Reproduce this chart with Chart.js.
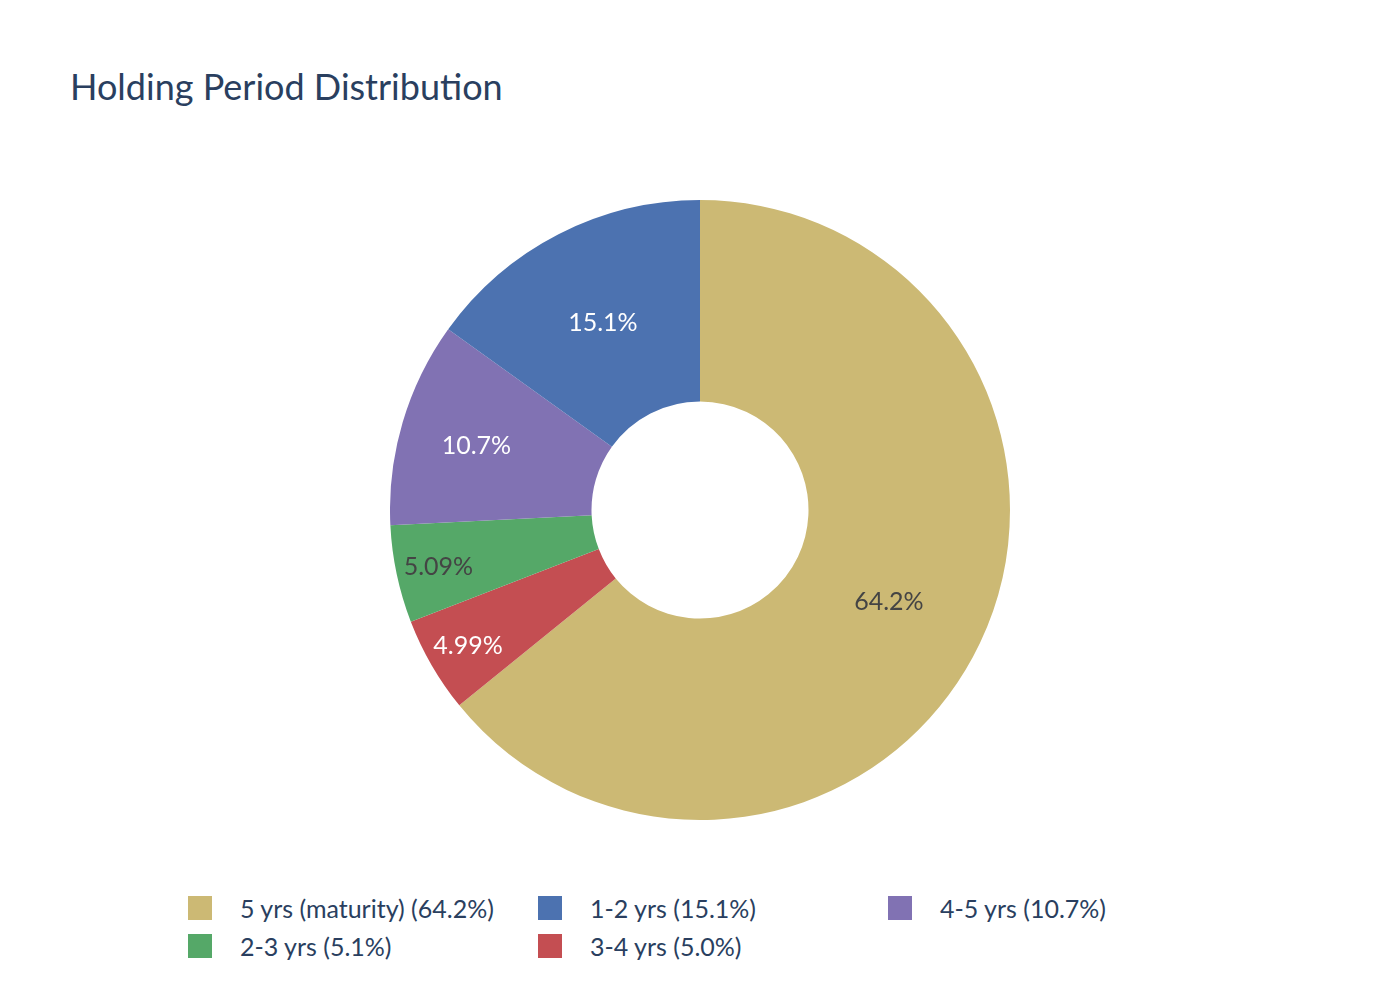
<!DOCTYPE html>
<html>
<head>
<meta charset="utf-8">
<script src="https://cdn.jsdelivr.net/npm/chart.js@4"></script>
<style>
  body { margin: 0; background: #fff; font-family: Lato, sans-serif; }
  #page { position: relative; width: 1400px; height: 1000px; }
  #title { position: absolute; left: 70px; top: 64px; font-size: 36px; color: #2a3f5f; white-space: nowrap; }
  #pie { position: absolute; left: 390px; top: 200px; width: 620px; height: 620px; }
  #legend { position: absolute; left: 188px; top: 894px; width: 1100px; }
  .item { position: absolute; display: flex; align-items: center; height: 28px; font-size: 25px; color: #2a3f5f; white-space: nowrap; }
  .swatch { width: 24px; height: 24px; margin-right: 28px; }
</style>
</head>
<body>
<div id="page">
  <div id="title">Holding Period Distribution</div>
  <div id="pie"><canvas id="myChart"></canvas></div>
  <div id="legend"></div>
</div>
<script>
// slices, clockwise from 12 o'clock
const categories = ["5 yrs (maturity)", "3-4 yrs", "2-3 yrs", "4-5 yrs", "1-2 yrs"];
const shares = [64.2, 4.99, 5.09, 10.7, 15.1];
const colors = ["rgb(204,185,116)", "rgb(196,78,82)", "rgb(85,168,104)", "rgb(129,114,179)", "rgb(76,114,176)"];

function textColorFor(c) {
    const [r, g, b] = c.match(/\d+/g).map(Number);
    return (r * 299 + g * 587 + b * 114) / 1000 >= 128 ? "#444" : "#fff";
}

// plotly-like inside labels
const sliceLabels = {
    id: "sliceLabels",
    afterDatasetsDraw(chart) {
        const ctx = chart.ctx;
        const meta = chart.getDatasetMeta(0);
        const total = shares.reduce((a, b) => a + b, 0);
        ctx.save();
        ctx.font = "25px Lato";
        ctx.textAlign = "center";
        ctx.textBaseline = "alphabetic";
        meta.data.forEach((arc, i) => {
            const p = arc.getProps(["x", "y", "startAngle", "endAngle", "outerRadius", "innerRadius"], true);
            const mid = (p.startAngle + p.endAngle) / 2;
            const frac = shares[i] / total;
            const hole = p.innerRadius / p.outerRadius;
            const half = Math.PI * Math.min(frac, 0.5);
            const rIns = Math.min(1 / (1 + 1 / Math.sin(half)), (1 - hole) / 2);
            const r = p.outerRadius * (1 - rIns);
            ctx.fillStyle = textColorFor(colors[i]);
            ctx.fillText(shares[i].toPrecision(3) + "%", p.x + Math.cos(mid) * r, p.y + Math.sin(mid) * r + 10);
        });
        ctx.restore();
    }
};

new Chart(document.getElementById("myChart").getContext("2d"), {
    type: "doughnut",
    data: {
        labels: categories,
        datasets: [{
            data: shares,
            backgroundColor: colors,
            borderWidth: 0
        }]
    },
    options: {
        responsive: true,
        maintainAspectRatio: false,
        animation: false,
        cutout: "35%",
        layout: { padding: 0 },
        plugins: {
            legend: { display: false },
            tooltip: { enabled: false }
        }
    },
    plugins: [sliceLabels]
});

// legend, largest first, three columns
const legend = document.getElementById("legend");
categories.map((c, i) => i)
    .sort((a, b) => shares[b] - shares[a])
    .forEach((idx, k) => {
        const el = document.createElement("div");
        el.className = "item";
        el.style.left = (k % 3) * 350 + "px";
        el.style.top = Math.floor(k / 3) * 38 + "px";
        el.innerHTML = '<div class="swatch" style="background:' + colors[idx] + '"></div>' +
            categories[idx] + " (" + shares[idx].toFixed(1) + "%)";
        legend.appendChild(el);
    });
</script>
</body>
</html>
